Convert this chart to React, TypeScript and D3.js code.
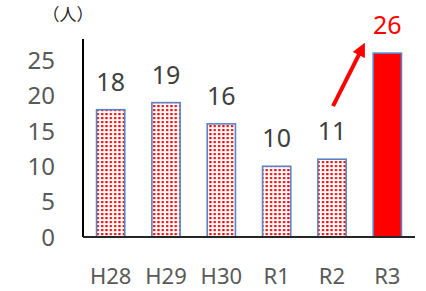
import React from 'react';
import * as d3 from 'd3';

const width = 426;
const height = 291;
const margin = { top: 39, right: 11, bottom: 54, left: 83 };

// 年度ごとの人数
const years = ['H28', 'H29', 'H30', 'R1', 'R2', 'R3'];
const counts = [18, 19, 16, 10, 11, 26];
const yTicks = [0, 5, 10, 15, 20, 25];
const highlightYear = 'R3';

const font = "'Noto Sans', 'Open Sans', sans-serif";

export default function App() {
    const x = d3.scaleBand<string>()
        .domain(years)
        .range([margin.left, width - margin.right])
        .paddingInner(0.49)
        .paddingOuter(0.245);
    const y = d3.scaleLinear().domain([0, 28]).range([height - margin.bottom, margin.top]);

    const base = y(0);
    const prev = years[years.length - 2];
    // arrow from above R2 label towards the R3 bar
    const ax1 = (x(prev) as number) + x.bandwidth() * 0.5 + 1;
    const ay1 = y(counts[counts.length - 2]) - 53;
    const ax2 = (x(highlightYear) as number) - 12;
    const ay2 = y(counts[counts.length - 1]) - 3;

    return (
        <svg width={width} height={height} style={{ position: 'absolute', left: 0, top: 0 }}>
            <defs>
                <pattern id="dots" x="0.5" y="0" width="4.33" height="4" patternUnits="userSpaceOnUse">
                    <rect width="4.33" height="4" fill="#fff" />
                    <rect x="1" y="1" width="2.2" height="2.2" fill="#ff0000" />
                </pattern>
                <marker id="head" viewBox="0 0 10 10" refX="4" refY="5" markerWidth="3.6" markerHeight="3.4" orient="auto">
                    <path d="M0,0 L10,5 L0,10 z" fill="#ff0000" />
                </marker>
            </defs>
            <rect width={width} height={height} fill="#fff" />

            <text x={68} y={21} textAnchor="middle" fontFamily="'Noto Sans CJK JP', sans-serif" fontSize={17} fill="#262626">（人）</text>

            {yTicks.map(t => (
                <text key={t} x={55} y={y(t)} dy="0.36em" textAnchor="end" fontFamily={font} fontSize={24} fill="#595959">{t}</text>
            ))}

            {years.map((yr, i) => {
                const hi = yr === highlightYear;
                return (
                    <g key={yr}>
                        <rect x={x(yr)} y={y(counts[i])} width={x.bandwidth()} height={base - y(counts[i])}
                            fill={hi ? '#ff0000' : 'url(#dots)'} stroke="#5b82c6" strokeWidth={1.6} />
                        <text x={(x(yr) as number) + x.bandwidth() / 2} y={y(counts[i]) - 19} textAnchor="middle"
                            fontFamily={font} fontSize={25} fill={hi ? '#ff0000' : '#404040'}>{counts[i]}</text>
                        <text x={(x(yr) as number) + x.bandwidth() / 2} y={284} textAnchor="middle"
                            fontFamily={font} fontSize={22} fill="#595959">{yr}</text>
                    </g>
                );
            })}

            <line x1={margin.left} x2={margin.left} y1={margin.top} y2={base} stroke="#000" strokeWidth={2} />
            <line x1={margin.left} x2={width - margin.right} y1={base} y2={base} stroke="#262626" strokeWidth={2} />

            <line x1={ax1} y1={ay1} x2={ax2} y2={ay2} stroke="#ff0000" strokeWidth={4} markerEnd="url(#head)" />
        </svg>
    );
}
